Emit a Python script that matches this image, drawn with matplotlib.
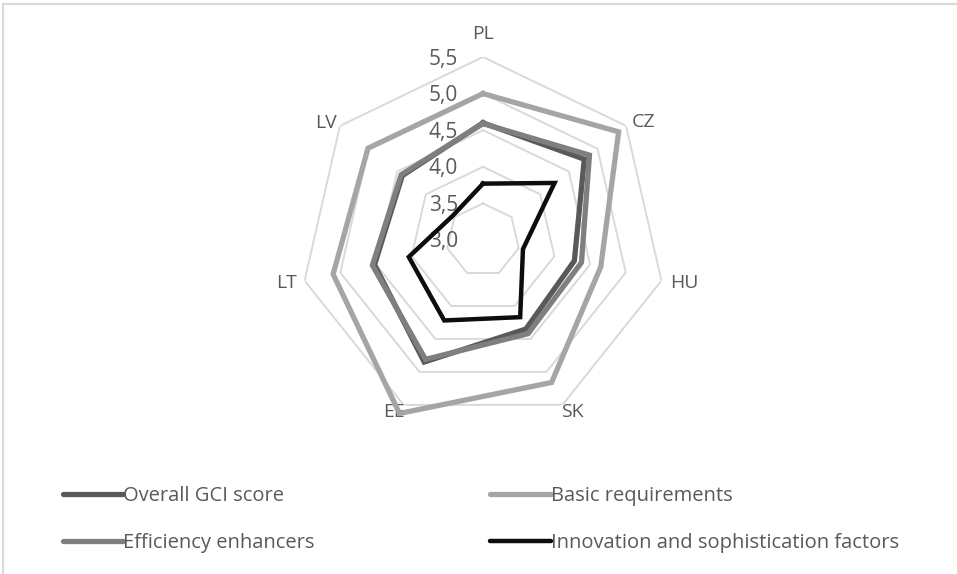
""" Radar chart of GCI sub-indices for CEE countries """
import matplotlib
matplotlib.use('Agg')
import matplotlib.pyplot as plt
import matplotlib.transforms as mtransforms
from matplotlib import font_manager, patches
import numpy as np

COUNTRIES = ['PL', 'CZ', 'HU', 'SK', 'EE', 'LT', 'LV']
OVERALL = [4.60, 4.77, 4.28, 4.35, 4.85, 4.52, 4.41]
BASIC = [5.00, 5.37, 4.65, 5.16, 5.63, 5.10, 5.01]
EFFICIENCY = [4.59, 4.86, 4.38, 4.42, 4.81, 4.55, 4.43]
INNOVATION = [3.77, 4.25, 3.56, 4.17, 4.22, 4.04, 3.53]
R_TICKS = [3.0, 3.5, 4.0, 4.5, 5.0, 5.5]
R_LABELS = ['3,0', '3,5', '4,0', '4,5', '5,0', '5,5']

SERIES = [
    ('Overall GCI score', OVERALL, '#595959', 3.8),
    ('Basic requirements', BASIC, '#a5a5a5', 3.8),
    ('Efficiency enhancers', EFFICIENCY, '#7f7f7f', 3.8),
    ('Innovation and sophistication factors', INNOVATION, '#0d0d0d', 3.2),
]

TEXT = '#595959'
GRID = '#d9d9d9'
# gap (px) between outer ring vertex and each category label
LABEL_PAD = [14, 7, 9, -2, -2, 8, 4]

names = {f.name for f in font_manager.fontManager.ttflist}
FONT = 'Liberation Sans Narrow' if 'Liberation Sans Narrow' in names else 'Open Sans'
plt.rcParams['font.family'] = [FONT, 'DejaVu Sans']


def closed(vals):
    """ repeat first value to close the polygon """
    return list(vals) + [vals[0]]


def main():
    fig = plt.figure(figsize=(9.57, 5.74), dpi=100)
    W, H = 957., 574.
    cx, cy, rad = 483., 240., 183.

    # outer frame (only top and left edges visible in the crop)
    fig.patches.append(patches.Rectangle((3 / W, -0.1), 1.2, 1 - 4 / H + 0.1,
                                         transform=fig.transFigure,
                                         fill=False, edgecolor=GRID, lw=1.5))

    ax = fig.add_axes([(cx - rad) / W, 1 - (cy + rad) / H, 2 * rad / W, 2 * rad / H],
                      projection='polar')
    ax.set_theta_zero_location('N')
    ax.set_theta_direction(-1)
    ax.set_ylim(R_TICKS[0], R_TICKS[-1])
    ax.grid(False)
    ax.spines['polar'].set_visible(False)
    ax.set_xticks([])
    ax.set_yticks([])
    ax.patch.set_alpha(0)

    angles = np.linspace(0, 2 * np.pi, len(COUNTRIES), endpoint=False)
    ang_c = closed(angles)

    # polygon grid
    for r in R_TICKS[1:]:
        ax.plot(ang_c, [r] * len(ang_c), color=GRID, lw=1.4, zorder=1)

    # radial tick labels left of the vertical axis
    off = mtransforms.offset_copy(ax.transData, fig=fig, x=-25, y=-2, units='dots')
    for r, lab in zip(R_TICKS, R_LABELS):
        ax.text(0, r, lab, transform=off, ha='right', va='center',
                fontsize=15, color=TEXT, zorder=2)

    # category labels outside the outer ring
    for a, name, pad in zip(angles, COUNTRIES, LABEL_PAD):
        s, c = np.sin(a), np.cos(a)
        ha = 'left' if s > 0.1 else ('right' if s < -0.1 else 'center')
        va = 'bottom' if c > 0.7 else ('top' if c < -0.5 else 'center')
        t = mtransforms.offset_copy(ax.transData, fig=fig, x=pad * s,
                                    y=pad * c, units='dots')
        ax.text(a, R_TICKS[-1], name, transform=t, ha=ha, va=va,
                fontsize=14, color=TEXT)

    lines = []
    for label, vals, col, lw in SERIES:
        ln, = ax.plot(ang_c, closed(vals), color=col, lw=lw, label=label,
                      solid_joinstyle='miter', clip_on=False, zorder=3)
        lines.append(ln)

    order = [0, 2, 1, 3]
    leg = fig.legend([lines[i] for i in order], [SERIES[i][0] for i in order],
                     ncol=2, loc='upper left', bbox_to_anchor=(55 / W, 1 - 478 / H),
                     frameon=False, fontsize=14.5, handlelength=3.0,
                     handletextpad=0.0, columnspacing=8.7, labelspacing=1.35,
                     borderaxespad=0)
    for txt in leg.get_texts():
        txt.set_color(TEXT)
    for h in leg.legend_handles:
        h.set_solid_capstyle('round')

    fig.savefig('out.png', dpi=100)


if __name__ == '__main__':
    main()
